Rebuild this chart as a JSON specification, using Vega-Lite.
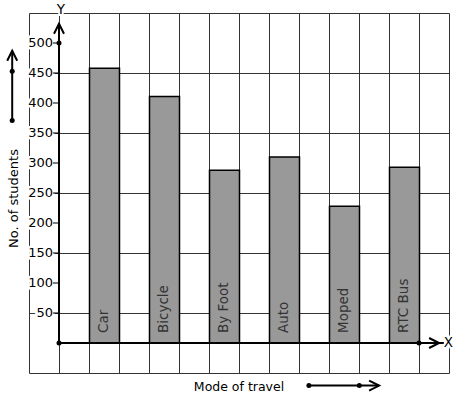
{
  "$schema": "https://vega.github.io/schema/vega-lite/v6.json",
  "width": 420,
  "height": 360,
  "autosize": {"type": "none"},
  "padding": {"left": 29, "top": 13, "right": 8, "bottom": 26},
  "background": "white",
  "config": {"view": {"stroke": null}, "font": "DejaVu Sans"},
  "datasets": {
    "travel": [
      {"mode": "Car", "col": 1, "students": 458},
      {"mode": "Bicycle", "col": 3, "students": 411},
      {"mode": "By Foot", "col": 5, "students": 288},
      {"mode": "Auto", "col": 7, "students": 310},
      {"mode": "Moped", "col": 9, "students": 228},
      {"mode": "RTC Bus", "col": 11, "students": 293}
    ],
    "yticks": [{"v": 50}, {"v": 100}, {"v": 150}, {"v": 200}, {"v": 250}, {"v": 300}, {"v": 350}, {"v": 400}, {"v": 450}, {"v": 500}],
    "lines": [
      {"x": 0, "y": 0, "x2": 0, "y2": 532},
      {"x": 0, "y": 0, "x2": 12.83, "y2": 0},
      {"x": -1.56, "y": 371, "x2": -1.56, "y2": 487},
      {"x": 8.33, "y": -71, "x2": 10.67, "y2": -71}
    ],
    "dots": [
      {"x": 0, "y": 500}, {"x": 0, "y": 0}, {"x": 12, "y": 0},
      {"x": -1.56, "y": 453}, {"x": -1.56, "y": 371},
      {"x": 8.33, "y": -71}, {"x": 10.01, "y": -71}
    ],
    "upHeads": [{"x": 0, "y": 532}, {"x": -1.56, "y": 487}],
    "rightHeads": [{"x": 12.67, "y": 0}, {"x": 10.67, "y": -71}],
    "letters": [{"x": 0.06, "y": 555, "t": "Y"}, {"x": 12.98, "y": 0, "t": "X"}]
  },
  "layer": [
    {
      "data": {"name": "travel"},
      "mark": {"type": "bar", "fill": "#999999", "stroke": "#000000", "strokeWidth": 1.5, "binSpacing": 0},
      "encoding": {
        "x": {
          "field": "col", "type": "quantitative", "bin": {"binned": true, "step": 1},
          "scale": {"domain": [-1, 13], "nice": false, "zero": false},
          "axis": {
            "values": [-1, 0, 1, 2, 3, 4, 5, 6, 7, 8, 9, 10, 11, 12, 13],
            "grid": true, "gridColor": "#333333", "gridWidth": 1, "gridOpacity": 1,
            "labels": false, "ticks": false, "domain": false,
            "title": "Mode of travel", "titleFont": "DejaVu Sans", "titleFontSize": 12.5,
            "titleFontWeight": "normal", "titleColor": "#000000",
            "titleX": 209.5, "titleY": 17, "titleAlign": "center", "titleBaseline": "alphabetic"
          }
        },
        "y": {
          "field": "students", "type": "quantitative",
          "scale": {"domain": [-50, 550], "nice": false, "zero": false},
          "axis": {
            "values": [-50, 0, 50, 100, 150, 200, 250, 300, 350, 400, 450, 500, 550],
            "grid": true, "gridColor": "#333333", "gridWidth": 1, "gridOpacity": 1,
            "labels": false, "ticks": false, "domain": false,
            "title": "No. of students", "titleFont": "DejaVu Sans", "titleFontSize": 13,
            "titleFontWeight": "normal", "titleColor": "#000000", "titleAngle": 270,
            "titleX": -12, "titleY": 185, "titleAlign": "center", "titleBaseline": "alphabetic"
          }
        },
        "y2": {"datum": 0}
      }
    },
    {
      "data": {"name": "travel"},
      "mark": {"type": "text", "angle": 270, "align": "left", "baseline": "middle", "dx": 10, "dy": 15, "fontSize": 13.5, "font": "DejaVu Sans", "color": "#333333"},
      "encoding": {
        "x": {"field": "col", "type": "quantitative"},
        "y": {"datum": 0},
        "text": {"field": "mode"}
      }
    },
    {
      "data": {"name": "lines"},
      "mark": {"type": "rule", "color": "#000000", "strokeWidth": 2},
      "encoding": {
        "x": {"field": "x", "type": "quantitative"},
        "y": {"field": "y", "type": "quantitative"},
        "x2": {"field": "x2"},
        "y2": {"field": "y2"}
      }
    },
    {
      "data": {"name": "yticks"},
      "mark": {"type": "text", "align": "right", "baseline": "middle", "dx": -6, "fontSize": 13, "font": "DejaVu Sans", "fill": "white", "stroke": "white", "strokeWidth": 5},
      "encoding": {
        "x": {"datum": 0},
        "y": {"field": "v", "type": "quantitative"},
        "text": {"field": "v"}
      }
    },
    {
      "data": {"name": "yticks"},
      "mark": {"type": "text", "align": "right", "baseline": "middle", "dx": -6, "fontSize": 13, "font": "DejaVu Sans", "color": "#000000"},
      "encoding": {
        "x": {"datum": 0},
        "y": {"field": "v", "type": "quantitative"},
        "text": {"field": "v"}
      }
    },
    {
      "data": {"name": "yticks"},
      "mark": {"type": "rule", "color": "#000000", "strokeWidth": 1},
      "encoding": {
        "x": {"datum": -0.2},
        "x2": {"datum": 0},
        "y": {"field": "v", "type": "quantitative"}
      }
    },
    {
      "data": {"name": "dots"},
      "mark": {"type": "point", "shape": "circle", "filled": true, "color": "#000000", "size": 25, "opacity": 1},
      "encoding": {
        "x": {"field": "x", "type": "quantitative"},
        "y": {"field": "y", "type": "quantitative"}
      }
    },
    {
      "data": {"name": "upHeads"},
      "mark": {"type": "point", "shape": "M-0.5,1L0,0L0.5,1", "filled": false, "stroke": "#000000", "strokeWidth": 2, "size": 400, "opacity": 1},
      "encoding": {
        "x": {"field": "x", "type": "quantitative"},
        "y": {"field": "y", "type": "quantitative"}
      }
    },
    {
      "data": {"name": "rightHeads"},
      "mark": {"type": "point", "shape": "M-1,-0.5L0,0L-1,0.5", "filled": false, "stroke": "#000000", "strokeWidth": 2, "size": 400, "opacity": 1},
      "encoding": {
        "x": {"field": "x", "type": "quantitative"},
        "y": {"field": "y", "type": "quantitative"}
      }
    },
    {
      "data": {"name": "letters"},
      "mark": {"type": "text", "align": "center", "baseline": "middle", "fontSize": 13.5, "font": "DejaVu Sans", "fill": "white", "stroke": "white", "strokeWidth": 4},
      "encoding": {
        "x": {"field": "x", "type": "quantitative"},
        "y": {"field": "y", "type": "quantitative"},
        "text": {"field": "t"}
      }
    },
    {
      "data": {"name": "letters"},
      "mark": {"type": "text", "align": "center", "baseline": "middle", "fontSize": 13.5, "font": "DejaVu Sans", "color": "#000000"},
      "encoding": {
        "x": {"field": "x", "type": "quantitative"},
        "y": {"field": "y", "type": "quantitative"},
        "text": {"field": "t"}
      }
    }
  ]
}
